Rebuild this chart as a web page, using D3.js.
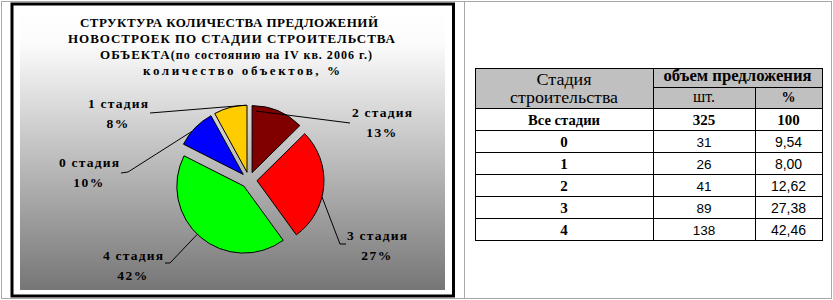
<!DOCTYPE html>
<html>
<head>
<meta charset="utf-8">
<script src="https://cdn.jsdelivr.net/npm/d3@7"></script>
<style>
  body { margin: 0; background: #fff; }
</style>
</head>
<body>
<svg id="chart" width="833" height="300"></svg>
<script>
////////////////////////////////////////////////////////////////////////
// Data

const stages = ["0", "1", "2", "3", "4"];
const counts = [31, 26, 41, 89, 138];
const shares = [9.54, 8.00, 12.62, 27.38, 42.46];
const totalLabel = "Все стадии";
const totalCount = 325;
const totalShare = 100;
const sliceColors = ["#0000ff", "#ffcc00", "#800000", "#ff0000", "#00ff00"];

const titleLines = [
  "СТРУКТУРА КОЛИЧЕСТВА ПРЕДЛОЖЕНИЙ",
  "НОВОСТРОЕК ПО СТАДИИ СТРОИТЕЛЬСТВА",
  "ОБЪЕКТА(по состоянию на IV кв. 2006 г.)",
  "количество объектов, %"
];
const headStage = ["Стадия", "строительства"];
const headVolume = "объем предложения";
const headCount = "шт.";
const headShare = "%";

////////////////////////////////////////////////////////////////////////
// Layout

const SERIF = "'Liberation Serif', 'Times New Roman', serif";
const SANS = "'Liberation Sans', Arial, sans-serif";

const svg = d3.select("#chart");
const fmtComma = d3.format(".2f");

// page frame
const frame = svg.append("g")
  .attr("stroke", "#a8a8a8")
  .attr("stroke-width", 1)
  .attr("fill", "none");
frame.append("rect").attr("x", 1.5).attr("y", 1.5).attr("width", 830).attr("height", 297);
frame.append("line").attr("x1", 464.5).attr("x2", 464.5).attr("y1", 1.5).attr("y2", 298.5);

// gradient background of the chart area
const defs = svg.append("defs");
const grad = defs.append("linearGradient")
  .attr("id", "bg").attr("x1", 0).attr("y1", 0).attr("x2", 0).attr("y2", 1);
grad.append("stop").attr("offset", "0%").attr("stop-color", "#ffffff");
grad.append("stop").attr("offset", "12%").attr("stop-color", "#fbfbfb");
grad.append("stop").attr("offset", "100%").attr("stop-color", "#767676");

svg.append("rect")
  .attr("x", 12).attr("y", 4).attr("width", 441.5).attr("height", 292)
  .attr("fill", "#fff").attr("stroke", "#000").attr("stroke-width", 3);

svg.append("rect")
  .attr("x", 20).attr("y", 11).attr("width", 425).attr("height", 279)
  .attr("fill", "url(#bg)");

// title
const titleFit = [
  { x: 80, w: 298 },
  { x: 68, w: 327 },
  { x: 100, w: 272 },
  { x: 143, w: 197 }
];
titleLines.forEach((line, i) => {
  const t = svg.append("text")
    .attr("x", titleFit[i].x)
    .attr("y", 27 + i * 16)
    .attr("font-family", SERIF)
    .attr("font-size", 13)
    .attr("font-weight", "bold")
    .attr("textLength", titleFit[i].w)
    .attr("lengthAdjust", "spacing");
  if (i === 2) {
    const k = line.indexOf("(");
    t.append("tspan").text(line.slice(0, k));
    t.append("tspan").attr("font-size", 12).text(line.slice(k));
  } else {
    t.text(line);
  }
});

////////////////////////////////////////////////////////////////////////
// Pie

const cx = 249, cy = 180, radius = 67, explode = 8;
const startA = -(shares[0] + shares[1]) / totalShare * 2 * Math.PI;

const pie = d3.pie()
  .sort(null)
  .value(d => d)
  .startAngle(startA)
  .endAngle(startA + 2 * Math.PI);
const arcs = pie(shares);
const arc = d3.arc().innerRadius(0).outerRadius(radius);

function offsetOf(d) {
  const m = (d.startAngle + d.endAngle) / 2;
  return [Math.sin(m) * explode, -Math.cos(m) * explode];
}

const pieG = svg.append("g").attr("transform", `translate(${cx},${cy})`);
pieG.selectAll("path")
  .data(arcs)
  .join("path")
  .attr("transform", d => `translate(${offsetOf(d)})`)
  .attr("d", arc)
  .attr("fill", (d, i) => sliceColors[i])
  .attr("stroke", "#000")
  .attr("stroke-width", 1);

// label placement, leader line tip angle (deg) and elbow points
const labelLayout = [
  { x: 89, y: 167, tip: -50, rr: 1, elbow: [[121, 173], [128, 172]] },
  { x: 118, y: 108, tip: -1, rr: 1, elbow: [[150, 113]] },
  { x: 382, y: 117, tip: 4, rr: 0.92, elbow: [[350, 123]] },
  { x: 377, y: 240, tip: 104, rr: 1, elbow: [[346, 244], [340, 244]] },
  { x: 133, y: 260, tip: 224, rr: 1, elbow: [[165, 263], [170, 263]] }
];

const line = d3.line();
arcs.forEach((d, i) => {
  const L = labelLayout[i];
  const off = offsetOf(d);
  const a = L.tip * Math.PI / 180;
  const tip = [cx + off[0] + L.rr * radius * Math.sin(a),
               cy + off[1] - L.rr * radius * Math.cos(a)];
  svg.append("path")
    .attr("d", line(L.elbow.concat([tip])))
    .attr("fill", "none")
    .attr("stroke", "#000")
    .attr("stroke-width", 1);

  svg.append("text")
    .attr("x", L.x - 30)
    .attr("y", L.y)
    .attr("font-family", SERIF)
    .attr("font-size", 13.5)
    .attr("font-weight", "bold")
    .attr("textLength", 60)
    .attr("lengthAdjust", "spacing")
    .text(stages[i] + " стадия");

  svg.append("text")
    .attr("x", L.x)
    .attr("y", L.y + 20)
    .attr("font-family", SERIF)
    .attr("font-size", 13.5)
    .attr("font-weight", "bold")
    .attr("text-anchor", "middle")
    .attr("letter-spacing", 1.5)
    .text(Math.round(shares[i]) + "%");
});

////////////////////////////////////////////////////////////////////////
// Table

const colX = [475, 653, 755, 822];
const tTop = 68, tMid = 87.5, tHead = 108, rowH = 22;
const rows = [totalLabel].concat(stages);
const tBottom = tHead + rows.length * rowH;

const table = svg.append("g");
table.append("rect")
  .attr("x", colX[0]).attr("y", tTop)
  .attr("width", colX[3] - colX[0]).attr("height", tHead - tTop)
  .attr("fill", "#c0c0c0");

const yRow = d3.scaleBand()
  .domain(d3.range(rows.length))
  .range([tHead, tBottom]);

const grid = table.append("g").attr("stroke", "#000").attr("stroke-width", 1);
[tTop, tHead].concat(yRow.domain().map(i => yRow(i) + rowH)).forEach(y => {
  grid.append("line").attr("x1", colX[0]).attr("x2", colX[3] + 1)
    .attr("y1", y + 0.5).attr("y2", y + 0.5);
});
grid.append("line").attr("x1", colX[1]).attr("x2", colX[3])
  .attr("y1", tMid).attr("y2", tMid);
colX.forEach((x, j) => {
  grid.append("line").attr("x1", x + 0.5).attr("x2", x + 0.5)
    .attr("y1", j === 2 ? tMid : tTop).attr("y2", tBottom + 0.5);
});

// fit: optional target width in px
function cell(x, y, str, size, bold, sans, fit) {
  const t = table.append("text")
    .attr("x", fit ? x - fit / 2 : x).attr("y", y)
    .attr("text-anchor", fit ? "start" : "middle")
    .attr("font-family", sans ? SANS : SERIF)
    .attr("font-size", size)
    .attr("font-weight", bold ? "bold" : "normal")
    .text(str);
  if (fit) t.attr("textLength", fit).attr("lengthAdjust", "spacingAndGlyphs");
}

const c0 = (colX[0] + colX[1]) / 2, c1 = (colX[1] + colX[2]) / 2, c2 = (colX[2] + colX[3]) / 2;
cell(c0, 85, headStage[0], 16, false, false, 55);
cell(c0, 103, headStage[1], 16, false, false, 108);
cell((colX[1] + colX[3]) / 2, 81, headVolume, 16, true, false, 148);
cell(c1, 102, headCount, 16, false, false, 22);
cell(c2, 102, headShare, 14, true);

rows.forEach((r, i) => {
  const y = yRow(i) + rowH - 5;
  if (i === 0) {
    cell(c0, y, r, 15, true, false, 72);
    cell(c1, y, totalCount, 15, true);
    cell(c2, y, totalShare, 15, true);
  } else {
    cell(c0, y, r, 15, true);
    cell(c1, y, counts[i - 1], 13.5, false, true);
    cell(c2, y, fmtComma(shares[i - 1]).replace(".", ","), 14, false, true);
  }
});
</script>
</body>
</html>
